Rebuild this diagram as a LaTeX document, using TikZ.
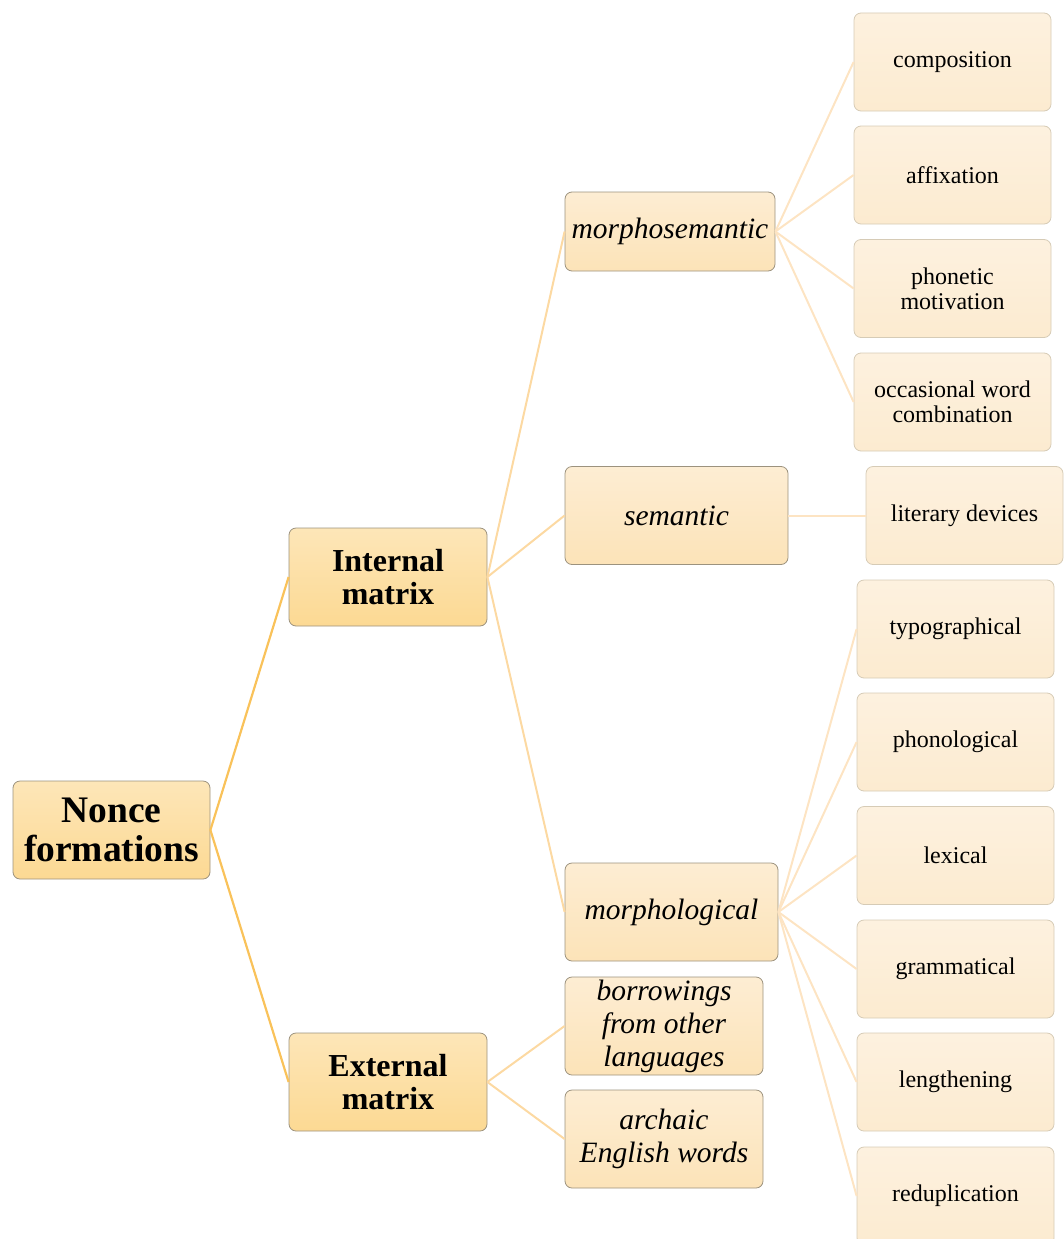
\documentclass[tikz,border=0pt]{standalone}
\usepackage{fontspec}
\setmainfont{Liberation Serif}

\definecolor{boxline}{HTML}{9C927E}
\definecolor{leafline}{HTML}{D6CBB6}
\definecolor{rootTop}{HTML}{FDE6B8}
\definecolor{rootBot}{HTML}{FCD993}
\definecolor{kindTop}{HTML}{FDEDD3}
\definecolor{kindBot}{HTML}{FCE3B8}
\definecolor{leafTop}{HTML}{FDF1DF}
\definecolor{leafBot}{HTML}{FCEBD0}
\definecolor{linkA}{HTML}{F9C25A}
\definecolor{linkB}{HTML}{FCD9A2}
\definecolor{linkC}{HTML}{FDE4C3}

\begin{document}
\begin{tikzpicture}[x=1pt,y=-1pt,
    box/.style={rectangle,rounded corners=7pt,draw=boxline,line width=0.8pt,align=center,inner sep=2pt,minimum height=98pt},
    root/.style={box,minimum width=197pt,top color=rootTop,bottom color=rootBot,font=\fontsize{37.5}{39}\selectfont\bfseries},
    mtx/.style={box,minimum width=198pt,top color=rootTop,bottom color=rootBot,font=\fontsize{32}{33}\selectfont\bfseries},
    kind/.style={box,top color=kindTop,bottom color=kindBot,font=\fontsize{29.5}{33}\selectfont\itshape},
    leaf/.style={box,draw=leafline,minimum width=197pt,top color=leafTop,bottom color=leafBot,font=\fontsize{24}{25}\selectfont},
    linkA/.style={draw=linkA,line width=2.2pt},
    linkB/.style={draw=linkB,line width=2pt},
    linkC/.style={draw=linkC,line width=2pt}]
    \useasboundingbox (0,0) rectangle (1064,1239);

    \node[root] (nonce) at (111.5,830) {Nonce\\formations};
    \node[mtx] (internal) at (388,577) {Internal\\matrix};
    \node[mtx] (external) at (388,1082) {External\\matrix};

    \node[kind,minimum width=210pt,minimum height=79pt] (msem) at (670,231.5) {morphosemantic};
    \node[kind,minimum width=223pt] (sem) at (676.5,515.5) {semantic};
    \node[kind,minimum width=213pt] (morph) at (671.5,912) {morphological};
    \node[kind,minimum width=198pt] (borrow) at (664,1026) {borrowings\\from other\\languages};
    \node[kind,minimum width=198pt] (archaic) at (664,1139) {archaic\\English words};

    \node[leaf] (compo) at (952.5,62) {composition};
    \node[leaf] (affix) at (952.5,175) {affixation};
    \node[leaf] (phon) at (952.5,288.5) {phonetic\\motivation};
    \node[leaf] (occas) at (952.5,402) {occasional word\\combination};
    \node[leaf] (liter) at (964.5,515.5) {literary devices};
    \node[leaf] (typo) at (955.5,629) {typographical};
    \node[leaf] (phonol) at (955.5,742) {phonological};
    \node[leaf] (lexic) at (955.5,855.5) {lexical};
    \node[leaf] (gramm) at (955.5,969) {grammatical};
    \node[leaf] (length) at (955.5,1082) {lengthening};
    \node[leaf] (redup) at (955.5,1196) {reduplication};

    \path[linkA] (nonce.east) edge (internal.west);
    \path[linkA] (nonce.east) edge (external.west);

    \path[linkB] (internal.east) edge (msem.west);
    \path[linkB] (internal.east) edge (sem.west);
    \path[linkB] (internal.east) edge (morph.west);
    \path[linkB] (external.east) edge (borrow.west);
    \path[linkB] (external.east) edge (archaic.west);

    \path[linkC] (msem.east) edge (compo.west);
    \path[linkC] (msem.east) edge (affix.west);
    \path[linkC] (msem.east) edge (phon.west);
    \path[linkC] (msem.east) edge (occas.west);
    \path[linkC] (sem.east) edge (liter.west);
    \path[linkC] (morph.east) edge (typo.west);
    \path[linkC] (morph.east) edge (phonol.west);
    \path[linkC] (morph.east) edge (lexic.west);
    \path[linkC] (morph.east) edge (gramm.west);
    \path[linkC] (morph.east) edge (length.west);
    \path[linkC] (morph.east) edge (redup.west);
\end{tikzpicture}
\end{document}
